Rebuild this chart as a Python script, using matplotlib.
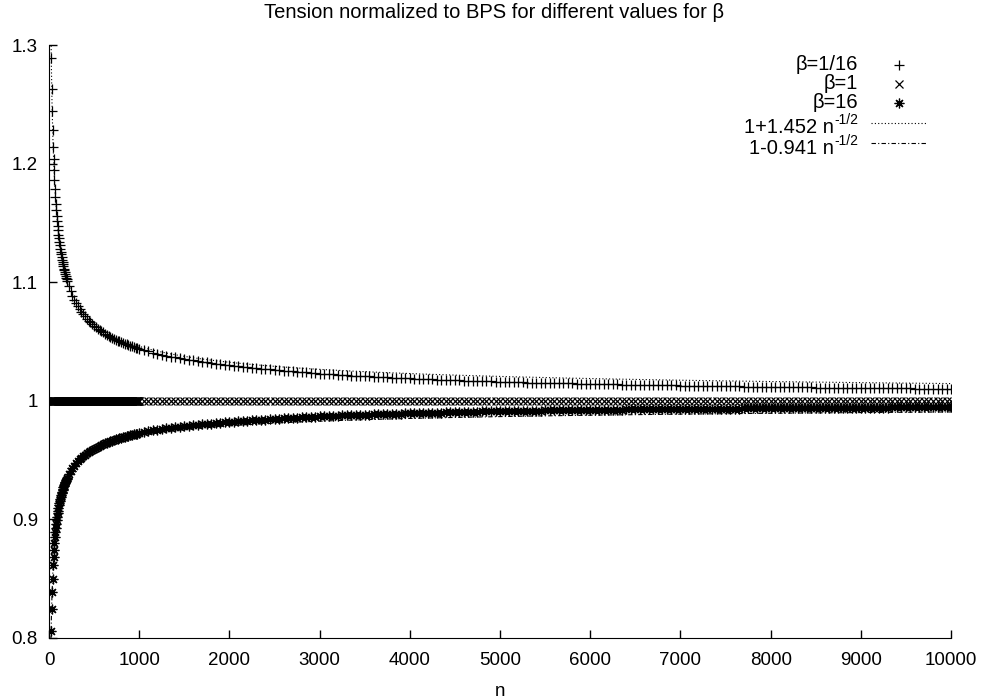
import matplotlib.pyplot as plt
import numpy as np

plt.rcParams['font.family'] = ['Liberation Sans', 'DejaVu Sans']

# sample positions: every 5 up to 200, every 20 up to 1000, every 50 after
n_steep = np.arange(25, 201, 5)
n_mid = np.arange(220, 1001, 20)
n_far = np.arange(1050, 10001, 50)

# beta = 1/16
plus_steep = [1.289, 1.263, 1.244, 1.228, 1.214, 1.2038, 1.1943, 1.1860, 1.1786, 1.1720,
              1.1662, 1.1608, 1.1560, 1.1516, 1.1475, 1.1437, 1.1402, 1.1369, 1.1339, 1.1311,
              1.1284, 1.1258, 1.1235, 1.1212, 1.1191, 1.1171, 1.1151, 1.1133, 1.1115, 1.1099,
              1.1083, 1.1067, 1.1053, 1.1038, 1.1025, 1.1012]
plus_mid = [1.0964, 1.0922, 1.0885, 1.0853, 1.0823, 1.0797, 1.0772, 1.0750, 1.0730, 1.0711,
            1.0693, 1.0677, 1.0662, 1.0648, 1.0634, 1.0622, 1.0609, 1.0598, 1.0587, 1.0576,
            1.0566, 1.0557, 1.0548, 1.0539, 1.0531, 1.0523, 1.0515, 1.0508, 1.0501, 1.0495,
            1.0489, 1.0483, 1.0476, 1.0470, 1.0465, 1.0460, 1.0455, 1.0449, 1.0444, 1.0439]
plus_far = [1.0428, 1.0417, 1.0407, 1.0398, 1.0389, 1.0381, 1.0373, 1.0366, 1.0359, 1.0352,
            1.0346, 1.0340, 1.0334, 1.0329, 1.0323, 1.0318, 1.0313, 1.0309, 1.0304, 1.0300,
            1.0295, 1.0291, 1.0287, 1.0283, 1.0279, 1.0275, 1.0271, 1.0267, 1.0264, 1.0260,
            1.0257, 1.0254, 1.0251, 1.0247, 1.0244, 1.0241, 1.0239, 1.0236, 1.0233, 1.0230,
            1.0228, 1.0225, 1.0223, 1.0220, 1.0218, 1.0216, 1.0213, 1.0211, 1.0209, 1.0207,
            1.0205, 1.0203, 1.0201, 1.0199, 1.0197, 1.0195, 1.0193, 1.0191, 1.0189, 1.0188,
            1.0186, 1.0185, 1.0183, 1.0181, 1.0180, 1.0179, 1.0177, 1.0176, 1.0174, 1.0173,
            1.0172, 1.0170, 1.0169, 1.0168, 1.0166, 1.0165, 1.0164, 1.0163, 1.0162, 1.0160,
            1.0159, 1.0158, 1.0157, 1.0156, 1.0155, 1.0154, 1.0153, 1.0153, 1.0152, 1.0151,
            1.0150, 1.0149, 1.0148, 1.0147, 1.0146, 1.0146, 1.0145, 1.0144, 1.0143, 1.0142,
            1.0142, 1.0141, 1.0140, 1.0139, 1.0139, 1.0138, 1.0137, 1.0136, 1.0136, 1.0135,
            1.0134, 1.0134, 1.0133, 1.0132, 1.0132, 1.0131, 1.0130, 1.0130, 1.0129, 1.0128,
            1.0128, 1.0127, 1.0127, 1.0126, 1.0125, 1.0125, 1.0124, 1.0124, 1.0123, 1.0123,
            1.0122, 1.0122, 1.0121, 1.0120, 1.0120, 1.0119, 1.0119, 1.0118, 1.0118, 1.0117,
            1.0117, 1.0116, 1.0116, 1.0115, 1.0115, 1.0114, 1.0114, 1.0113, 1.0113, 1.0112,
            1.0112, 1.0112, 1.0111, 1.0111, 1.0110, 1.0110, 1.0109, 1.0109, 1.0108, 1.0108,
            1.0108, 1.0107, 1.0107, 1.0106, 1.0106, 1.0106, 1.0105, 1.0105, 1.0104, 1.0104,
            1.0104, 1.0103, 1.0103, 1.0102, 1.0102, 1.0102, 1.0101, 1.0101, 1.0101, 1.0100]

# beta = 16
star_steep = [0.806, 0.8245, 0.8385, 0.8497, 0.8616, 0.8684, 0.8746, 0.8800, 0.8848, 0.8890,
              0.8928, 0.8963, 0.8994, 0.9023, 0.9050, 0.9074, 0.9097, 0.9118, 0.9138, 0.9156,
              0.9173, 0.9190, 0.9205, 0.9220, 0.9234, 0.9247, 0.9259, 0.9271, 0.9282, 0.9293,
              0.9304, 0.9314, 0.9323, 0.9332, 0.9341, 0.9350]
star_mid = [0.9381, 0.9408, 0.9431, 0.9453, 0.9472, 0.9489, 0.9505, 0.9519, 0.9532, 0.9545,
            0.9556, 0.9566, 0.9576, 0.9585, 0.9594, 0.9603, 0.9611, 0.9619, 0.9626, 0.9633,
            0.9640, 0.9646, 0.9653, 0.9658, 0.9664, 0.9669, 0.9674, 0.9680, 0.9684, 0.9689,
            0.9693, 0.9697, 0.9702, 0.9706, 0.9709, 0.9714, 0.9717, 0.9720, 0.9724, 0.9729]
star_far = [0.9737, 0.9744, 0.9750, 0.9756, 0.9762, 0.9767, 0.9772, 0.9777, 0.9781, 0.9786,
            0.9790, 0.9794, 0.9797, 0.9801, 0.9804, 0.9808, 0.9811, 0.9814, 0.9817, 0.9820,
            0.9823, 0.9826, 0.9829, 0.9831, 0.9834, 0.9837, 0.9839, 0.9842, 0.9844, 0.9847,
            0.9849, 0.9851, 0.9854, 0.9856, 0.9858, 0.9860, 0.9862, 0.9864, 0.9866, 0.9868,
            0.9870, 0.9871, 0.9873, 0.9874, 0.9876, 0.9877, 0.9879, 0.9880, 0.9881, 0.9883,
            0.9884, 0.9885, 0.9886, 0.9887, 0.9889, 0.9890, 0.9891, 0.9892, 0.9893, 0.9894,
            0.9895, 0.9896, 0.9897, 0.9898, 0.9899, 0.9900, 0.9901, 0.9902, 0.9903, 0.9904,
            0.9905, 0.9906, 0.9907, 0.9908, 0.9909, 0.9910, 0.9910, 0.9911, 0.9912, 0.9913,
            0.9914, 0.9914, 0.9915, 0.9915, 0.9916, 0.9916, 0.9917, 0.9918, 0.9918, 0.9919,
            0.9919, 0.9920, 0.9920, 0.9921, 0.9921, 0.9921, 0.9922, 0.9922, 0.9923, 0.9923,
            0.9924, 0.9924, 0.9925, 0.9925, 0.9926, 0.9926, 0.9926, 0.9927, 0.9927, 0.9928,
            0.9928, 0.9928, 0.9929, 0.9929, 0.9929, 0.9930, 0.9930, 0.9930, 0.9931, 0.9931,
            0.9932, 0.9932, 0.9932, 0.9933, 0.9933, 0.9933, 0.9933, 0.9934, 0.9934, 0.9934,
            0.9935, 0.9935, 0.9935, 0.9936, 0.9936, 0.9936, 0.9936, 0.9937, 0.9937, 0.9937,
            0.9938, 0.9938, 0.9938, 0.9938, 0.9939, 0.9939, 0.9939, 0.9939, 0.9940, 0.9940,
            0.9940, 0.9940, 0.9940, 0.9941, 0.9941, 0.9941, 0.9941, 0.9942, 0.9942, 0.9942,
            0.9942, 0.9943, 0.9943, 0.9943, 0.9943, 0.9943, 0.9944, 0.9944, 0.9944, 0.9944,
            0.9944, 0.9945, 0.9945, 0.9945, 0.9945, 0.9945, 0.9945, 0.9946, 0.9946, 0.9946]

# fit coefficients as printed in the legend
c_low_beta = 1.452
c_high_beta = 0.941

labels = ['β=1/16', 'β=1', 'β=16', '1+1.452 n', '1-0.941 n']
label_sups = ['', '', '', '-1/2', '-1/2']

n = np.concatenate([n_steep, n_mid, n_far])
beta_low = plus_steep + plus_mid + plus_far
beta_high = star_steep + star_mid + star_far
n_one = np.arange(25, 1001, 5).tolist() + n_far.tolist()
beta_one = [1.0] * len(n_one)

n_fit = np.linspace(20, 10000, 3000)

fig = plt.figure(figsize=(9.88, 7.0), dpi=100)
ax = fig.add_axes([0.0496, 0.0886, 0.913, 0.8471])

plus_style = dict(ls='none', marker='+', ms=7, mew=0.9, color='black')
cross_style = dict(ls='none', marker='x', ms=5.5, mew=0.9, color='black')
star_style = dict(ls='none', marker=(8, 2, 0), ms=7, mew=0.9, color='black')
dot_style = dict(ls=(0, (1, 2)), lw=0.8, color='black')
dashdot_style = dict(ls=(0, (4, 2, 1, 2)), lw=0.8, color='black')

ax.plot(n, beta_low, **plus_style)
ax.plot(n_one, beta_one, **cross_style)
ax.plot(n, beta_high, **star_style)
ax.plot(n_fit, 1 + c_low_beta / np.sqrt(n_fit), **dot_style)
ax.plot(n_fit, 1 - c_high_beta / np.sqrt(n_fit), **dashdot_style)

ax.set_xlim(0, 10000)
ax.set_ylim(0.8, 1.3)
ax.set_xticks(np.arange(0, 10001, 1000))
ax.set_yticks([0.8, 0.9, 1.0, 1.1, 1.2, 1.3])
ax.set_yticklabels(['0.8', '0.9', '1', '1.1', '1.2', '1.3'])
ax.spines['top'].set_visible(False)
ax.spines['right'].set_visible(False)
ax.tick_params(direction='in', length=6, width=1, labelsize=13.5, pad=8)
ax.tick_params(axis='x', pad=10)
ax.set_xlabel('n', fontsize=13.5, labelpad=10)
fig.text(0.5, 0.982, 'Tension normalized to BPS for different values for β',
         ha='center', va='center', fontsize=14.5)

# gnuplot-style key: right-aligned text, sample on the right
tr = ax.transAxes
renderer = fig.canvas.get_renderer()
text_x = 0.897
text_y = [0.958, 0.926, 0.894, 0.8516, 0.8162]
for lab, sup, ty in zip(labels, label_sups, text_y):
    shift = 0.0
    if sup:
        s = ax.text(text_x, ty + 0.0155, sup, transform=tr, ha='right', va='baseline', fontsize=10)
        shift = s.get_window_extent(renderer).width / ax.bbox.width
    ax.text(text_x - shift, ty, lab, transform=tr, ha='right', va='baseline', fontsize=14.5)
ax.plot([0.9424], [0.9663], transform=tr, clip_on=False, **plus_style)
ax.plot([0.9424], [0.9342], transform=tr, clip_on=False, **cross_style)
ax.plot([0.9424], [0.9022], transform=tr, clip_on=False, **star_style)
ax.plot([0.9113, 0.9723], [0.8690, 0.8690], transform=tr, clip_on=False, **dot_style)
ax.plot([0.9113, 0.9723], [0.8353, 0.8353], transform=tr, clip_on=False, **dashdot_style)

fig.savefig('out.png', dpi=100)
